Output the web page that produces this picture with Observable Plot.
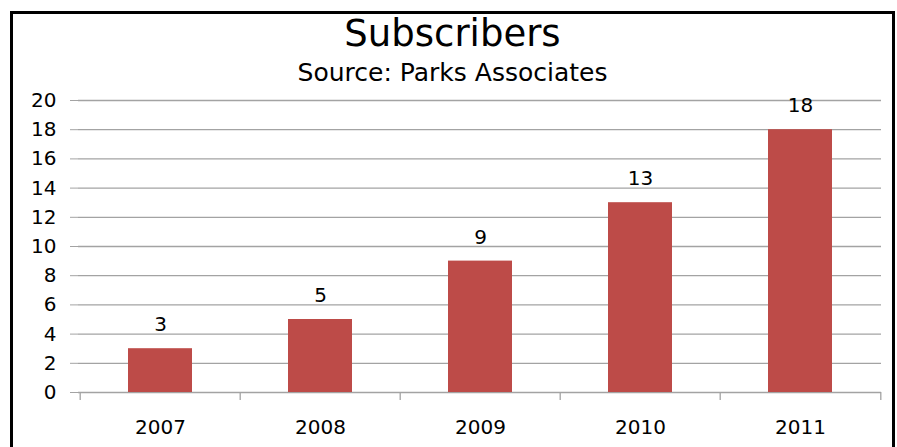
<!DOCTYPE html>
<html>
<head>
<meta charset="utf-8">
<script src="https://cdn.jsdelivr.net/npm/d3@7"></script>
<script src="https://cdn.jsdelivr.net/npm/@observablehq/plot@0.6"></script>
<style>
  html, body { margin: 0; padding: 0; background: #fff; width: 897px; height: 447px; overflow: hidden; }
  #wrap { position: relative; width: 897px; height: 447px; }
  #frame { position: absolute; left: 10px; top: 11px; width: 885px; height: 460px; border: 3px solid #000; box-sizing: border-box; }
  #title { position: absolute; left: 0; width: 905px; top: 12px; text-align: center; font-family: "DejaVu Sans", sans-serif; font-size: 37px; line-height: 43px; color: #000; font-weight: normal; }
  #subtitle { position: absolute; left: 0; width: 905px; top: 58px; text-align: center; font-family: "DejaVu Sans", sans-serif; font-size: 25px; line-height: 29px; color: #000; }
  #chart { position: absolute; left: 0; top: 0; }
</style>
</head>
<body>
<div id="wrap">
  <div id="frame"></div>
  <div id="chart"></div>
  <div id="title">Subscribers</div>
  <div id="subtitle">Source: Parks Associates</div>
</div>
<script>
const years = ["2007", "2008", "2009", "2010", "2011"];
const subscribers = [3, 5, 9, 13, 18];
const yTicks = [0, 2, 4, 6, 8, 10, 12, 14, 16, 18, 20];

const data = years.map((year, i) => ({year, value: subscribers[i]}));

const W = 897, H = 447;
const mL = 78, mR = 16, mT = 100, mB = 55;
const step = (W - mL - mR) / years.length;
const gridColor = "#a3a3a3";
const font = "DejaVu Sans, sans-serif";

const chart = Plot.plot({
  width: W,
  height: H,
  marginLeft: mL,
  marginRight: mR,
  marginTop: mT,
  marginBottom: mB,
  style: {fontFamily: font, background: "transparent", color: "#000"},
  x: {domain: years, paddingInner: 0.6, paddingOuter: 0.3, label: null},
  y: {domain: [0, 20], label: null},
  marks: [
    Plot.gridY(yTicks, {stroke: gridColor, strokeOpacity: 1, strokeWidth: 1.3}),
    Plot.axisY(yTicks, {tickSize: 8, tickPadding: 14, stroke: gridColor, fontSize: 20, color: "#000", label: null}),
    Plot.axisX({tickSize: 0, tickPadding: 27, fontSize: 20, label: null}),
    Plot.ruleX([yTicks[0]], {x: () => 0, y1: 0, y2: 20, stroke: gridColor, strokeWidth: 1.3, render: (index, scales, values, dims, ctx) => {
      const g = d3.create("svg:g");
      g.append("line").attr("x1", dims.marginLeft).attr("x2", dims.marginLeft)
        .attr("y1", scales.y(0)).attr("y2", scales.y(20)).attr("stroke", gridColor).attr("stroke-width", 1.3);
      return g.node();
    }}),
    Plot.ruleX(years, {x: d => d, dx: -step / 2, y1: 0, y2: -0.55, stroke: gridColor, strokeWidth: 1.3}),
    Plot.ruleX([years[years.length - 1]], {x: d => d, dx: step / 2, y1: 0, y2: -0.55, stroke: gridColor, strokeWidth: 1.3}),
    Plot.barY(data, {x: "year", y: "value", fill: "#bd4b48"}),
    Plot.text(data, {x: "year", y: "value", text: d => String(d.value), dy: -24, fontSize: 20, fill: "#000"})
  ]
});
document.getElementById("chart").appendChild(chart);
</script>
</body>
</html>
